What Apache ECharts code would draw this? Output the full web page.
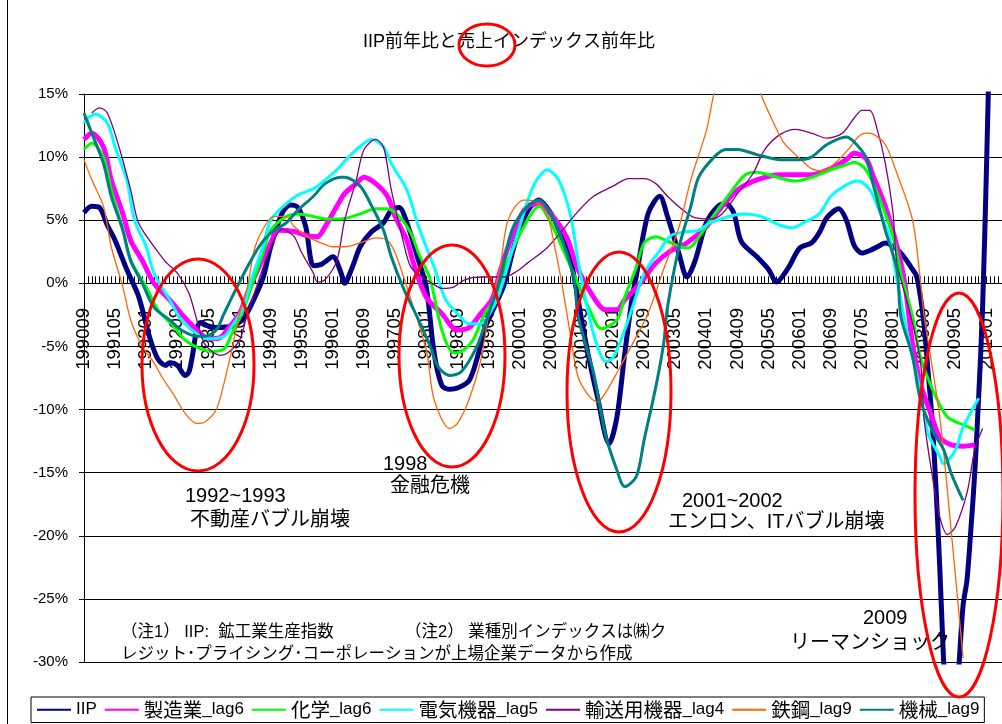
<!DOCTYPE html>
<html>
<head>
<meta charset="utf-8">
<title>IIP前年比と売上インデックス前年比</title>
<script src="https://cdn.jsdelivr.net/npm/echarts@6/dist/echarts.min.js"></script>
<style>
  html, body { margin: 0; padding: 0; background: #fff; }
  #chart { width: 1002px; height: 724px; }
</style>
</head>
<body>
<div id="chart"></div>
<script>
// 月次カテゴリ 199009 ～ 201005
var months = [];
for (var i = 0; i < 237; i++) {
  var y = 1990 + Math.floor((8 + i) / 12);
  var m = (8 + i) % 12 + 1;
  months.push(y + (m < 10 ? '0' : '') + m);
}

var seriesNames = ['IIP', '製造業_lag6', '化学_lag6', '電気機器_lag5', '輸送用機器_lag4', '鉄鋼_lag9', '機械_lag9'];
var yTicks = [-30, -25, -20, -15, -10, -5, 0, 5, 10, 15];

// [199009からの月数, 前年比%]
var iip = [[0,5.6],[2,6.1],[4,6.0],[6,4.6],[8,3.4],[11,1.1],[14,-1.0],[17,-4.4],[19,-6.0],[21,-6.5],[22,-6.3],[24,-6.5],[26,-7.3],[27,-7.0],[28,-5.5],[29,-3.6],[30,-3.1],[32,-3.4],[34,-3.5],[38,-3.4],[41,-2.8],[43,-1.7],[46,0.4],[48,2.9],[51,5.6],[53,6.2],[55,6.0],[57,4.5],[59,1.4],[61,1.5],[64,2.1],[66,0.9],[67,0.0],[69,1.3],[71,2.9],[74,4.1],[77,4.8],[79,5.8],[81,6.0],[83,4.8],[86,1.8],[88,-0.3],[90,-5.5],[92,-8.1],[94,-8.4],[96,-8.3],[99,-7.7],[101,-6.0],[103,-3.6],[105,-2.2],[108,-0.1],[111,3.4],[114,5.7],[117,6.6],[119,6.0],[121,5.0],[123,3.5],[125,2.0],[126,0.5],[129,-4.7],[132,-9.0],[135,-12.7],[137,-10.6],[139,-5.6],[141,-1.0],[142,0.6],[145,5.5],[148,6.9],[150,5.3],[153,2.3],[155,0.5],[157,1.7],[160,4.8],[163,6.1],[165,6.3],[167,5.6],[169,3.3],[173,2.1],[176,1.1],[178,0.1],[181,1.2],[184,2.8],[187,3.2],[189,4.0],[191,5.2],[194,5.9],[196,5.0],[198,3.0],[200,2.4],[202,2.6],[204,2.9],[206,3.2],[209,2.7],[211,2.0],[213,1.1],[214,0.6],[215,-1.0],[216,-3.4],[217,-7.0],[218,-10.7],[219,-16.0],[220,-22.5],[221,-30.0],[222,-36.0],[223,-38.0],[224,-35.0],[225,-30.0],[226,-25.5],[227,-23.5],[228,-19.5],[229,-15.0],[230,-9.0],[231,-2.0],[232,9.0],[233,22.0]];

var seizo = [[0,11.4],[2,11.9],[5,10.8],[7,8.2],[10,5.5],[12,3.4],[15,1.8],[18,0.0],[22,-1.3],[25,-2.4],[29,-3.7],[32,-4.4],[35,-4.3],[37,-3.6],[40,-2.4],[42,-0.8],[45,1.3],[48,3.2],[50,4.2],[54,4.1],[57,3.8],[60,3.7],[62,4.5],[65,6.1],[67,7.1],[70,7.9],[72,8.4],[75,7.9],[78,6.9],[80,5.3],[83,3.4],[85,1.3],[88,-1.1],[92,-2.4],[96,-3.7],[99,-3.5],[102,-2.4],[105,-1.2],[107,1.0],[111,4.5],[114,6.1],[117,6.3],[120,5.5],[124,3.7],[127,1.1],[131,-1.1],[134,-2.1],[137,-2.1],[139,-1.3],[143,0.0],[147,1.6],[151,2.6],[155,3.2],[160,4.5],[164,6.1],[168,7.4],[173,8.2],[179,8.6],[187,8.6],[192,9.1],[196,9.8],[198,10.3],[201,9.9],[203,8.4],[206,6.1],[209,2.9],[211,0.0],[213,-4.8],[215,-7.9],[218,-10.6],[220,-12.2],[223,-12.8],[226,-12.9],[229,-12.8]];

var kagaku = [[0,10.6],[2,11.1],[5,10.0],[7,7.4],[10,4.2],[12,1.8],[16,-0.3],[19,-2.1],[23,-3.4],[26,-4.5],[30,-5.2],[33,-5.4],[36,-5.2],[38,-4.0],[41,-2.1],[43,-0.3],[46,2.4],[48,4.2],[52,5.3],[55,5.5],[59,5.3],[62,5.1],[66,5.1],[71,5.5],[75,5.9],[78,5.9],[81,5.3],[84,4.0],[86,2.4],[89,0.3],[92,-3.7],[95,-5.5],[97,-5.4],[100,-4.5],[103,-2.4],[106,-1.1],[109,1.8],[114,5.0],[117,6.1],[120,4.8],[124,2.1],[130,-2.1],[133,-3.6],[137,-2.9],[139,-1.1],[142,1.3],[144,3.2],[147,3.7],[151,3.2],[155,2.8],[157,3.2],[161,5.0],[166,7.1],[170,8.6],[173,8.8],[176,8.6],[183,8.1],[187,8.4],[192,9.0],[196,9.4],[198,9.6],[201,9.0],[204,7.1],[208,3.7],[210,0.8],[213,-2.6],[215,-5.8],[219,-9.0],[222,-10.6],[226,-11.2],[229,-11.6]];

var denki = [[0,12.7],[1,13.1],[3,13.4],[6,12.7],[8,10.8],[11,8.2],[13,5.0],[16,2.9],[18,0.8],[22,-1.3],[25,-2.9],[29,-4.0],[32,-4.4],[36,-4.2],[38,-3.4],[41,-1.9],[43,0.3],[46,2.9],[48,5.0],[52,6.3],[55,7.0],[59,7.5],[62,8.2],[65,9.0],[68,10.0],[72,11.1],[74,11.4],[77,10.8],[79,9.5],[83,7.4],[86,4.5],[90,1.3],[93,-1.3],[96,-2.4],[99,-3.2],[102,-3.2],[105,-2.0],[107,-0.6],[110,2.5],[112,4.5],[114,6.5],[116,8.0],[118,8.8],[119,9.0],[122,8.2],[125,5.5],[127,1.8],[130,-2.8],[132,-5.0],[134,-6.2],[136,-5.9],[139,-3.7],[141,-1.9],[144,0.8],[148,2.6],[151,3.8],[155,4.1],[158,4.2],[161,4.8],[167,5.4],[170,5.5],[174,5.3],[179,4.6],[182,4.4],[185,4.8],[189,5.5],[192,6.9],[196,7.8],[199,8.1],[202,7.4],[204,6.1],[207,3.7],[209,0.3],[212,-4.5],[215,-8.5],[217,-11.9],[220,-13.7],[221,-14.3],[224,-13.2],[226,-11.4],[230,-9.1]];

var yuso = [[2,13.5],[4,13.9],[6,13.5],[9,10.8],[12,7.4],[14,4.8],[18,2.9],[21,1.7],[24,0.8],[27,-0.8],[29,-2.9],[31,-4.8],[35,-5.7],[37,-5.5],[40,-4.5],[42,-2.4],[45,0.3],[48,2.9],[51,4.3],[54,3.7],[56,2.4],[59,0.8],[60,0.1],[62,0.3],[65,1.8],[67,5.0],[70,8.2],[72,10.6],[75,11.4],[77,10.8],[79,7.4],[82,3.4],[84,1.3],[87,0.5],[90,-0.1],[92,-0.4],[95,-0.3],[98,0.3],[102,0.5],[108,0.5],[111,0.9],[114,1.6],[119,2.8],[123,4.2],[127,5.7],[131,6.9],[136,7.7],[140,8.3],[144,8.3],[147,7.9],[150,6.9],[154,5.8],[157,5.2],[161,5.1],[164,5.5],[168,7.1],[172,8.7],[175,10.6],[179,11.8],[183,12.2],[187,11.9],[191,11.5],[195,11.9],[198,13.1],[200,13.7],[202,13.7],[204,12.1],[206,9.5],[208,5.5],[209,1.6],[212,-1.9],[215,-6.1],[216,-10.8],[218,-15.1],[220,-18.5],[222,-19.9],[224,-19.3],[227,-16.6],[229,-13.2],[231,-11.5]];

var tekko = [[0,9.8],[2,8.2],[5,6.1],[7,2.9],[10,-0.3],[12,-2.9],[15,-5.0],[18,-6.3],[20,-7.4],[23,-8.8],[26,-10.3],[29,-11.1],[31,-11.0],[34,-10.0],[36,-7.9],[38,-5.3],[40,-2.4],[42,-0.3],[44,2.9],[47,4.8],[49,5.3],[52,5.3],[54,4.5],[58,3.6],[61,3.2],[64,2.9],[67,2.9],[71,3.2],[75,3.6],[78,3.4],[80,2.4],[83,-0.3],[88,-5.3],[90,-9.2],[94,-11.5],[96,-11.1],[99,-9.2],[102,-6.1],[104,-2.6],[107,1.3],[109,5.0],[113,6.6],[116,6.5],[119,5.5],[121,2.9],[123,-0.3],[125,-4.0],[127,-7.4],[130,-9.0],[132,-9.4],[134,-8.7],[137,-7.1],[141,-4.8],[145,-2.4],[149,1.1],[153,4.5],[156,8.2],[160,12.1],[162,15.1],[165,18.0],[168,19.5],[171,18.0],[174,15.0],[177,12.9],[180,11.1],[184,9.9],[187,9.1],[190,8.9],[193,9.5],[197,10.8],[199,11.6],[201,11.9],[203,11.8],[206,11.0],[209,8.7],[213,5.0],[215,0.3],[216,-2.6],[220,-10.6],[223,-19.8],[226,-29.7]];

var kikai = [[0,13.5],[2,11.9],[5,9.5],[7,6.9],[10,4.2],[12,1.8],[15,0.0],[18,-1.9],[22,-2.9],[25,-3.7],[29,-4.2],[31,-4.2],[34,-3.7],[36,-2.4],[39,-0.5],[42,1.3],[45,2.9],[48,4.0],[52,4.8],[55,5.8],[59,6.9],[62,7.9],[66,8.4],[67,8.4],[71,7.7],[74,6.1],[77,4.2],[79,2.1],[82,-0.3],[86,-2.9],[89,-5.0],[91,-6.6],[94,-7.3],[97,-7.0],[101,-5.0],[104,-2.4],[107,0.3],[110,4.2],[114,6.1],[117,6.6],[120,5.5],[123,3.4],[126,0.3],[127,-2.6],[131,-7.1],[134,-11.9],[137,-14.8],[139,-16.1],[142,-15.3],[144,-12.4],[147,-8.2],[149,-4.8],[150,-1.9],[153,2.9],[156,6.1],[158,8.4],[162,10.0],[165,10.6],[168,10.6],[173,10.2],[179,9.8],[184,9.8],[187,10.0],[191,11.0],[196,11.6],[198,11.2],[201,10.0],[203,7.7],[206,4.2],[209,1.1],[210,-2.6],[213,-5.8],[215,-9.2],[218,-11.6],[221,-13.2],[223,-15.1],[226,-17.2]];

var seriesData = [iip, seizo, kagaku, denki, yuso, tekko, kikai];
var seriesColors = ['#000080', '#ff00ff', '#00ff00', '#00ffff', '#800080', '#ff6600', '#008080'];
var seriesWidths = [5, 5, 3, 3, 1.3, 1.3, 3];

var LATIN = '"Liberation Sans", Arial, sans-serif';
var CJK = '"Noto Sans CJK JP", sans-serif';
var NORMAL = '"Liberation Sans", Arial, "Noto Sans CJK JP", sans-serif';

function toPairs(arr) {
  return arr.map(function (p) { return [months[p[0]], p[1]]; });
}

var chart = echarts.init(document.getElementById('chart'));

var series = seriesNames.map(function (name, k) {
  return {
    name: name,
    type: 'line',
    data: toPairs(seriesData[k]),
    symbol: 'none',
    smooth: 0.3,
    clip: true,
    lineStyle: { color: seriesColors[k], width: seriesWidths[k] },
    itemStyle: { color: seriesColors[k] }
  };
});

function txt(left, top, text, size) {
  return {
    type: 'text', left: left, top: top, z: 110,
    style: { text: text, fill: '#000', font: size + 'px ' + NORMAL }
  };
}
function ring(cx, cy, rx, ry) {
  return {
    type: 'ellipse', z: 100,
    shape: { cx: cx, cy: cy, rx: rx, ry: ry },
    style: { stroke: '#ff0000', lineWidth: 3, fill: 'transparent' }
  };
}

chart.setOption({
  animation: false,
  backgroundColor: '#fff',
  title: {
    text: 'IIP前年比と売上インデックス前年比',
    left: 358,
    top: 28,
    textStyle: { fontSize: 18, fontWeight: 'normal', color: '#000', fontFamily: NORMAL }
  },
  legend: {
    data: seriesNames,
    left: 31,
    top: 697,
    itemWidth: 34,
    itemHeight: 14,
    itemGap: 7,
    itemStyle: { opacity: 0 },
    padding: [3, 5, 3, 5],
    borderColor: '#000',
    borderWidth: 1,
    formatter: function (name) {
      var k = name.indexOf('_');
      if (name === 'IIP') return '{l|IIP}';
      return '{c|' + name.slice(0, k) + '}{l|' + name.slice(k) + '}';
    },
    textStyle: {
      color: '#000',
      rich: {
        c: { fontSize: 19.5, fontFamily: CJK, color: '#000' },
        l: { fontSize: 17, fontFamily: LATIN, color: '#000' }
      }
    }
  },
  grid: { left: 84, top: 94, width: 920, height: 568, containLabel: false },
  xAxis: {
    type: 'category',
    data: months,
    boundaryGap: false,
    axisLine: { onZero: true, lineStyle: { color: '#000', width: 1 } },
    axisTick: { show: true, inside: true, length: 7, interval: 0, lineStyle: { color: '#000' } },
    axisLabel: {
      interval: 7,
      rotate: 90,
      margin: -354,
      fontSize: 18.5,
      color: '#000',
      fontFamily: LATIN
    },
    splitLine: { show: false }
  },
  yAxis: {
    type: 'value',
    min: yTicks[0],
    max: yTicks[yTicks.length - 1],
    interval: 5,
    axisLine: { show: true, lineStyle: { color: '#000' } },
    axisTick: { show: true, length: 5, lineStyle: { color: '#000' } },
    axisLabel: {
      formatter: function (v) { return v + '%'; },
      fontSize: 15,
      color: '#000',
      margin: 16,
      fontFamily: LATIN
    },
    splitLine: { show: true, lineStyle: { color: '#000', width: 1 } }
  },
  series: series,
  graphic: [
    { type: 'line', z: 50, shape: { x1: 7.5, y1: 0, x2: 7.5, y2: 724 }, style: { stroke: '#000', lineWidth: 1 } },
    ring(487, 45, 28, 21),
    ring(198, 365, 56, 106),
    ring(452, 356, 53, 111),
    ring(619, 392, 52, 140),
    ring(959, 495, 44, 202),
    txt(185, 486, '1992~1993', 20),
    txt(190, 510, '不動産バブル崩壊', 20),
    txt(383, 454, '1998', 20),
    txt(390, 476, '金融危機', 20),
    txt(682, 491, '2001~2002', 20),
    txt(668, 512, 'エンロン、ITバブル崩壊', 20),
    txt(863, 608, '2009', 20),
    txt(790, 633, 'リーマンショック', 20),
    txt(121, 624, '（注1） IIP:  鉱工業生産指数', 16.5),
    txt(405, 624, '（注2） 業種別インデックスは㈱ク', 16.5),
    txt(121, 646, 'レジット･プライシング･コーポレーションが上場企業データから作成', 16.5)
  ]
});
</script>
</body>
</html>
